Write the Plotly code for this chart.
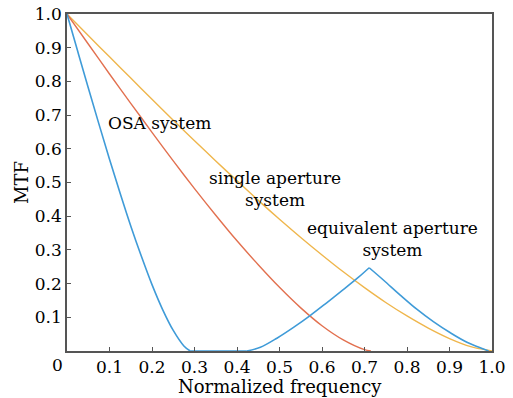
import plotly.graph_objects as go

# ---- data ----
equiv_x = [0, 0.05, 0.10, 0.15, 0.20, 0.25, 0.30, 0.35, 0.40, 0.45, 0.50, 0.55,
           0.60, 0.65, 0.70, 0.75, 0.80, 0.85, 0.90, 0.95, 1.00]
equiv_y = [1.0, 0.936, 0.873, 0.810, 0.747, 0.685, 0.624, 0.564, 0.505, 0.447, 0.391,
           0.337, 0.285, 0.235, 0.188, 0.144, 0.104, 0.068, 0.037, 0.013, 0.0]

single_x = [0, 0.05, 0.10, 0.15, 0.20, 0.25, 0.30, 0.35, 0.40, 0.45, 0.50, 0.55,
            0.60, 0.65, 0.70, 0.715]
single_y = [1.0, 0.911, 0.822, 0.735, 0.649, 0.564, 0.482, 0.403, 0.327, 0.256,
            0.189, 0.128, 0.075, 0.033, 0.004, 0.0]

# OSA system: main lobe, zero band, rising side lobe, falling side lobe
osa_lobe_x = [0, 0.025, 0.05, 0.075, 0.10, 0.125, 0.15, 0.175, 0.20, 0.225, 0.25, 0.275, 0.29]
osa_lobe_y = [1.0, 0.890, 0.781, 0.674, 0.569, 0.468, 0.371, 0.281, 0.197, 0.123, 0.061, 0.015, 0.0]
osa_zero_x = [0.29, 0.423]
osa_zero_y = [0.0, 0.0]
osa_rise_x = [0.423, 0.455, 0.494, 0.533, 0.572, 0.611, 0.65, 0.686, 0.711]
osa_rise_y = [0.0, 0.011, 0.038, 0.070, 0.105, 0.143, 0.182, 0.219, 0.247]
osa_fall_x = [0.711, 0.745, 0.784, 0.823, 0.862, 0.902, 0.941, 0.98, 0.992]
osa_fall_y = [0.247, 0.210, 0.166, 0.124, 0.087, 0.054, 0.026, 0.006, 0.0]

tick_vals = [0.1, 0.2, 0.3, 0.4, 0.5, 0.6, 0.7, 0.8, 0.9, 1.0]
tick_text = ["0.1", "0.2", "0.3", "0.4", "0.5", "0.6", "0.7", "0.8", "0.9", "1.0"]

labels = ["OSA system", "single aperture<br>system", "equivalent aperture<br>system"]
label_x = [0.218, 0.49, 0.766]
label_y = [0.677, 0.48, 0.332]

FONT = "DejaVu Serif"
TXT = "#000000"
BLUE, RED, ORANGE = "#3f9bd8", "#e2704f", "#efb64c"

fig = go.Figure()
fig.add_trace(go.Scatter(x=equiv_x, y=equiv_y, mode="lines",
                         line=dict(color=ORANGE, width=1.4, shape="spline", smoothing=0.8), showlegend=False))
fig.add_trace(go.Scatter(x=single_x, y=single_y, mode="lines",
                         line=dict(color=RED, width=1.4, shape="spline", smoothing=0.8), showlegend=False))
for xs, ys, shp in [(osa_lobe_x, osa_lobe_y, "spline"), (osa_zero_x, osa_zero_y, "linear"),
                    (osa_rise_x, osa_rise_y, "spline"), (osa_fall_x, osa_fall_y, "spline")]:
    fig.add_trace(go.Scatter(x=xs, y=ys, mode="lines",
                             line=dict(color=BLUE, width=1.6, shape=shp, smoothing=1.0), showlegend=False))

for t, x, y in zip(labels, label_x, label_y):
    fig.add_annotation(x=x, y=y, text=t, showarrow=False, xanchor="center", yanchor="middle",
                       font=dict(family=FONT, size=17, color=TXT), align="center")

# origin label and axis titles
fig.add_annotation(xref="paper", yref="paper", x=-0.023, y=-0.042, text="0", showarrow=False,
                   xanchor="center", yanchor="middle", font=dict(family=FONT, size=17, color=TXT))
fig.add_annotation(xref="paper", yref="paper", x=0.5, y=-0.104, text="Normalized frequency",
                   showarrow=False, xanchor="center", yanchor="middle",
                   font=dict(family=FONT, size=18, color=TXT))
fig.add_annotation(xref="paper", yref="paper", x=-0.107, y=0.5, text="MTF", textangle=-90,
                   showarrow=False, xanchor="center", yanchor="middle",
                   font=dict(family=FONT, size=18, color=TXT))

axis_common = dict(showline=True, mirror=True, linecolor="#555", linewidth=1.5, showgrid=False,
                   zeroline=False, ticks="inside", ticklen=4, tickcolor="#555", tickwidth=1,
                   tickvals=tick_vals, ticktext=tick_text, automargin=False, range=[0, 1],
                   tickfont=dict(family=FONT, size=17, color=TXT))

fig.update_layout(
    width=513, height=398,
    margin=dict(l=67, r=21, t=14, b=47),
    paper_bgcolor="white", plot_bgcolor="white",
    xaxis=dict(**axis_common),
    yaxis=dict(**axis_common),
)

# remove the default 8px page margin so the figure fills the window exactly
fig.write_html("out.html", config={"displayModeBar": False},
               post_script="document.body.style.margin='0';")
